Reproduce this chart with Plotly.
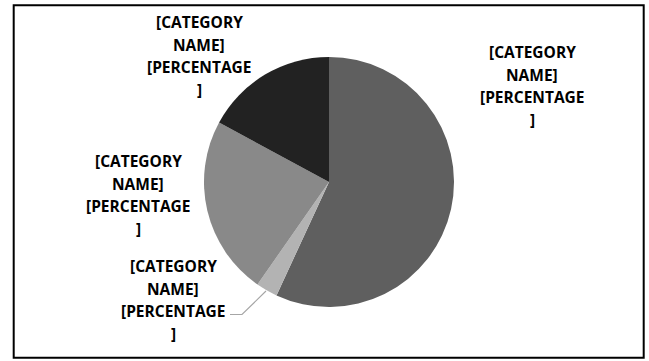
import plotly.graph_objects as go

W, H = 649, 361

# Data (clockwise from 12 o'clock)
categories = ["Category A", "Category B", "Category C", "Category D"]
values = [56.9, 2.8, 23.2, 17.1]
colors = ["#5f5f5f", "#b3b3b3", "#898989", "#222222"]
label_lines = ["[CATEGORY", "NAME]", "[PERCENTAGE", "]"]

# Layout constants (pixel positions of label blocks: center x, first-line y)
label_pos = [(532, 52), (173, 266), (138, 161), (199, 22)]
line_gap = 22.6

cx, cy, r = 329, 182, 125

def px(x):
    return x / W

def py(y):
    return 1 - y / H

fig = go.Figure()
fig.add_trace(go.Pie(
    labels=categories,
    values=values,
    sort=False,
    direction="clockwise",
    rotation=0,
    marker=dict(colors=colors, line=dict(width=0)),
    textinfo="none",
    hoverinfo="label+percent",
    showlegend=False,
    domain=dict(x=[px(cx - r), px(cx + r)], y=[py(cy + r), py(cy - r)]),
))

annotations = []
for (lx, ly) in label_pos:
    for i, t in enumerate(label_lines):
        annotations.append(dict(
            x=px(lx), y=py(ly + i * line_gap), xref="paper", yref="paper",
            text=t, showarrow=False, xanchor="center", yanchor="middle",
            font=dict(family="Open Sans", size=15.5, color="#000000", weight="bold"),
        ))

shapes = [
    dict(type="rect", xref="paper", yref="paper",
         x0=px(13.7), x1=px(643.7), y0=py(357.7), y1=py(5.3),
         line=dict(color="#000000", width=2), fillcolor="rgba(0,0,0,0)", layer="above"),
    dict(type="path", xref="paper", yref="paper",
         path=f"M {px(230)},{py(314.5)} L {px(242)},{py(314.5)} L {px(266)},{py(291)}",
         line=dict(color="#a6a6a6", width=1.2)),
]

fig.update_layout(
    width=W, height=H,
    margin=dict(l=0, r=0, t=0, b=0),
    paper_bgcolor="#ffffff",
    plot_bgcolor="#ffffff",
    annotations=annotations,
    shapes=shapes,
)

fig.write_html("out.html")
